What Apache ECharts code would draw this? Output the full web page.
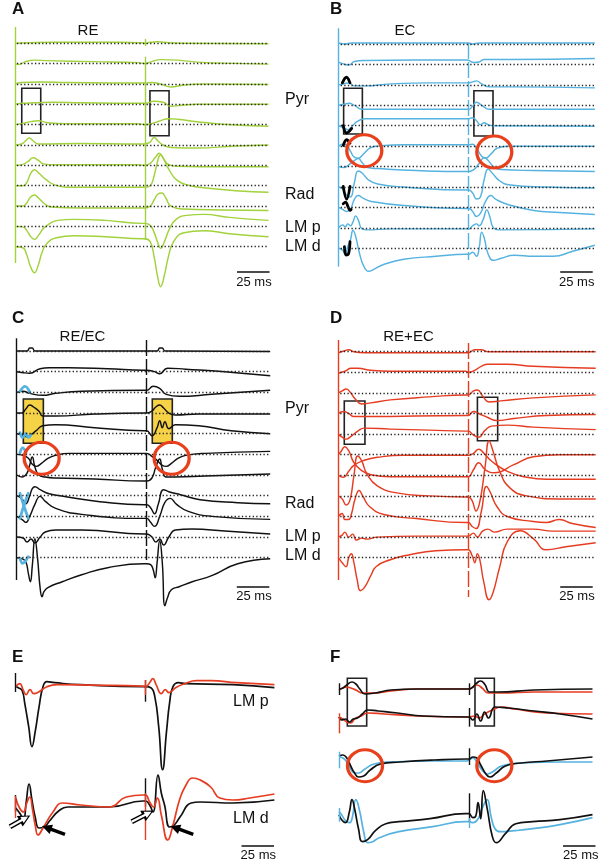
<!DOCTYPE html>
<html><head><meta charset="utf-8">
<script src="https://cdn.jsdelivr.net/npm/echarts@6/dist/echarts.min.js"></script>
<style>html,body{margin:0;padding:0;background:#fff}#c{width:600px;height:862px}</style>
</head><body><div id="c"></div>
<script>
// ===== DATA (time in ms after first stimulus, amplitude up = positive) =====
const traceA = [
 [[0,0],[10,0.5],[30,1],[80,1],[98,0.5],[100,0],[104,1],[110,1.5],[118,0.5],[130,0],[195,-0.5]],
 [[0,0],[3,-1],[8,2],[15,3.5],[25,3],[60,2],[95,1],[100,0],[105,2],[112,4],[125,3.5],[140,1.5],[160,0.5],[195,-0.5]],
 [[0,0],[5,1.5],[20,2],[40,1.5],[95,1],[100,1],[105,1.5],[112,0],[120,-3],[130,-1],[145,0],[195,-0.5]],
 [[0,0],[5,1],[15,1.5],[30,2],[50,1.5],[95,1],[100,1],[107,3],[114,2],[120,-2],[128,-1],[140,0],[195,0]],
 [[0,0],[5,1],[12,3],[18,4],[25,2],[40,1],[95,1],[100,0],[105,1],[112,4],[118,6],[125,5.5],[140,3],[160,0.5],[195,-1.5]],
 [[0,0],[5,1],[8,4],[11,7],[14,4],[18,1],[50,1.5],[95,1],[100,1],[104,3],[107,7.5],[110,4],[114,0],[120,-2.5],[140,-3],[170,-1],[195,0]],
 [[0,0],[6,1],[10,4],[14,7.5],[18,5],[22,1.5],[30,0.5],[95,0.5],[100,0],[104,2],[108,8],[111,12],[114,7],[118,1],[125,-1],[160,-1.5],[195,-1.5]],
 [[0,0],[6,0],[9,3],[12,12],[15,16],[18,13],[24,6],[30,1],[40,-1.5],[95,-1.5],[100,-1.5],[104,0],[107,10],[110,26],[112,31],[115,25],[118,17],[125,5],[135,0],[145,-2],[170,-5],[195,-6.5]],
 [[0,0],[6,0],[9,3],[12,9],[15,11],[18,8],[23,2],[28,-1],[50,-2],[95,-2],[100,-2],[104,0],[107,6],[110,12],[113,13],[116,8],[120,0],[130,-3],[160,-4],[195,-4.5]],
 [[0,0],[6,-0.5],[9,-4],[12,-10],[15,-13],[18,-9],[22,-2],[27,3],[33,6],[45,7],[70,6],[98,3],[100,3],[104,1],[107,-6],[110,-17],[112,-22],[115,-15],[119,-2],[124,7],[132,11],[145,12],[165,9],[195,6]],
 [[0,0],[6,-1],[9,-8],[12,-20],[15,-26],[18,-18],[21,-5],[25,4],[32,9],[45,11],[70,10],[98,8],[100,8],[104,5],[107,-10],[110,-32],[112,-40],[115,-28],[118,-10],[122,5],[130,14],[145,16],[165,13],[195,10]]
];
const traceB = [
 [[0,1],[5,0],[10,1],[98,1],[100,1],[103,0],[108,1],[197,1]],
 [[0,2],[5,0],[8,-0.5],[12,3],[20,4],[60,4.5],[98,4.5],[100,4],[104,2],[108,2.5],[112,5],[130,5],[197,6]],
 [[0,0],[4,1],[8,2],[12,-1],[20,-1],[40,1],[70,2],[98,2],[100,2],[103,3],[106,4],[110,1],[116,-2],[130,-2],[197,-3]],
 [[0,0],[4,1],[8,2],[12,0],[18,-4],[40,-4],[98,-4],[100,-4],[103,-1],[106,3],[110,0],[116,-4],[197,-4]],
 [[0,0],[4,-2],[7,-4],[10,-1],[14,4],[20,7],[60,7],[98,7],[100,7],[103,8],[106,5],[109,1],[112,3],[115,1],[120,0],[197,-0.5]],
 [[0,0],[3,2],[6,1],[9,-5],[12,-11],[15,-12],[19,-8],[24,-2],[30,0],[50,1.5],[98,1.5],[100,1.5],[103,2],[106,-2],[110,-10],[113,-12],[117,-8],[122,-2],[130,0],[197,0]],
 [[0,0],[4,-1],[8,2],[12,6],[15,8],[18,4],[22,-1],[30,-2],[60,-4],[98,-5],[100,-5],[104,-3],[108,3],[112,9],[115,6],[119,0],[125,-3],[150,-4],[197,-5]],
 [[0,0],[3,-2],[6,-8],[9,-10],[12,4],[15,16],[18,14],[23,7],[30,3],[50,0],[98,-3],[100,-3],[103,-6],[106,-12],[109,-10],[112,8],[115,18],[118,14],[124,6],[132,2],[160,0],[197,-1]],
 [[0,0],[3,-2],[6,-4],[9,-2],[12,8],[15,12],[19,9],[25,6],[50,2],[98,-1],[100,-1],[103,-4],[106,-9],[109,-6],[113,6],[117,12],[121,8],[130,3],[150,-3],[170,-5],[197,-7]],
 [[0,0],[3,3],[5,1],[7,4],[9,2],[11,6],[13,12],[15,8],[18,-1],[22,-2],[40,-1],[98,-1],[100,-1],[103,2],[106,4],[108,2],[111,8],[114,18],[116,12],[119,0],[123,-2],[197,-1]],
 [[0,0],[3,-2],[5,-6],[7,2],[9,8],[11,18],[13,12],[16,-5],[19,-17],[23,-23],[27,-21],[35,-16],[50,-11],[75,-8],[98,-6],[100,-6],[103,-4],[106,-8],[108,0],[110,16],[112,10],[115,-6],[119,-12],[125,-10],[135,-7],[150,-8],[165,-8],[180,-3],[197,3]]
];
const traceC = [
 [[0,0],[8,0],[10,3],[12,3],[14,0],[100,0],[108,0],[110,3],[112,3],[114,0],[195,-0.5]],
 [[0,0],[5,-1],[10,-1.5],[18,3],[25,4],[40,4],[70,3],[98,1.5],[100,1.5],[106,0],[110,-2],[116,3.5],[130,2.5],[160,0],[195,-4]],
 [[0,0],[5,1],[10,-1],[20,-3],[30,-1],[50,1],[98,2],[100,2],[105,6],[110,4],[115,-2],[125,-4],[150,-2],[195,2]],
 [[0,0],[4,0],[7,4],[10,8],[13,6],[17,2],[20,-3],[30,-3],[60,-1],[98,0],[100,0],[104,2],[107,6],[110,8],[113,5],[117,0],[122,-2],[140,-1],[195,-1]],
 [[0,0],[4,-1],[8,-3],[11,-1],[15,3],[20,8],[30,9],[60,6],[98,3],[100,3],[104,-2],[108,6],[110,13],[112,6],[114,12],[117,5],[122,9],[140,8],[165,3],[195,0]],
 [[0,0],[5,-1],[9,-4],[12,-10],[15,-12],[19,-9],[24,-4],[30,-1],[40,1],[98,1],[100,1],[104,-2],[108,-6],[112,-11],[115,-12],[119,-9],[124,-4],[130,-1],[145,1],[195,3]],
 [[0,0],[4,-2],[8,2],[10,10],[12,18],[14,8],[17,0],[22,-2],[30,-3],[60,-4],[98,-6],[100,-6],[104,-3],[107,8],[110,16],[112,6],[115,-2],[122,-2],[145,-1],[195,1]],
 [[0,0],[4,-3],[7,-8],[10,0],[12,7],[14,9],[18,6],[25,2],[38,-1],[64,-6],[98,-9],[100,-9],[103,-12],[106,-18],[109,-8],[113,6],[117,4],[126,1],[141,-4],[170,-7],[195,-8]],
 [[0,0],[4,-3],[7,-6],[10,0],[14,12],[18,20],[22,15],[30,8],[50,2],[98,-2],[100,-2],[103,-6],[106,-10],[110,0],[114,14],[118,18],[123,12],[132,5],[150,0],[195,-3]],
 [[0,0],[5,-1],[8,-5],[11,-2],[14,-6],[18,0],[22,5],[30,7],[50,7],[98,3],[100,3],[104,0],[107,-5],[110,-2],[113,-8],[117,0],[122,7],[135,8],[160,6],[195,3]],
 [[0,0],[4,-1],[7,-4],[9,-16],[10.5,-24],[12,-8],[14,19],[16,0],[18,-30],[19.5,-39],[21,-34],[24,-30],[35,-24],[50,-17],[70,-10],[98,-6],[100,-6],[103,-7],[105,-12],[106.5,-20],[108,-5],[110,17],[112,-5],[114,-48],[116,-40],[119,-32],[125,-29],[135,-24],[150,-18],[170,-6],[195,-1]]
];
const traceD = [
 [[0,-1],[5,1],[8,2],[12,0],[20,-1],[98,-1],[100,-1],[105,2],[110,2],[115,0],[198,0]],
 [[0,-1],[5,1],[10,4],[15,4],[25,2],[40,1],[98,1],[100,0],[105,2],[110,6],[115,8],[130,8],[150,6],[198,4]],
 [[0,0],[3,2],[6,4],[9,1],[13,-6],[18,-11],[25,-10],[40,-7],[70,-4],[98,-2],[100,-2],[104,2],[107,3],[111,-3],[116,-9],[125,-8],[150,-5],[198,-2]],
 [[0,0],[4,2],[8,0],[12,-3],[20,-3],[98,-2],[100,-2],[104,2],[108,0],[115,-4],[122,-7],[135,-5],[160,-2],[198,-1]],
 [[0,0],[3,-3],[6,-5],[10,-2],[15,3],[20,6],[40,5],[70,4],[98,3],[100,3],[104,-1],[108,-3],[113,4],[118,8],[130,9],[150,7],[198,4.5]],
 [[0,0],[2,3],[5,8],[8,4],[12,-8],[18,-16],[25,-20],[40,-22],[98,-22],[100,-22],[104,-15],[108,-8],[113,-15],[120,-18],[135,-10],[150,-2],[170,0],[198,0]],
 [[0,0],[4,-2],[8,4],[12,10],[20,15],[30,18],[50,20],[98,20],[100,20],[104,22],[108,26],[112,22],[118,14],[130,4],[145,-2],[160,-4],[198,-4]],
 [[0,0],[3,-3],[6,-9],[9,-4],[12,20],[15,40],[18,35],[22,22],[30,10],[45,3],[70,0],[98,-1],[100,-1],[103,-5],[106,-15],[109,-5],[113,30],[116,55],[119,45],[124,25],[132,8],[145,0],[170,-3],[198,-3]],
 [[0,0],[3,3],[5,-3],[8,-3],[10,2],[13,18],[16,26],[19,20],[24,10],[35,2],[60,-2],[98,-6],[100,-6],[103,-10],[106,-12],[110,5],[114,30],[117,24],[122,10],[130,0],[150,-5],[160,-6],[170,-3],[180,-7],[198,-11]],
 [[0,0],[3,2],[5,5],[8,0],[11,3],[14,-3],[18,-1],[22,-2],[30,0],[60,1],[98,1],[100,1],[104,4],[107,0],[111,6],[115,8],[120,5],[130,8],[150,8],[165,6],[198,6]],
 [[0,0],[3,-5],[6,-9],[8,0],[10,4],[12,-5],[14.5,-22],[17,-33],[20,-30],[25,-18],[29,-9],[40,-2],[55,3],[75,7],[98,8],[100,8],[103,2],[105,-5],[107,4],[109,-3],[112,-25],[116,-42],[119,-35],[124,-10],[130,16],[140,27],[150,19],[160,8],[175,11],[198,15]]
];
// E: LM p black, LM p red, LM d black, LM d red
const traceE = [
 [[0,0],[2,-1],[5,-4],[7,-17],[10,-40],[12.5,-60],[15,-45],[18,-20],[21,0],[24,5],[30,4],[50,2],[98,0],[100,0],[104,-1],[107,-10],[110,-40],[113,-83],[116,-45],[118.5,-15],[121,0],[125,4],[131,3],[167,2],[199,-1]],
 [[0,0],[3,3],[6,-4],[8,-8],[11,-3],[14,-7],[18,-5],[24,0],[32,2],[60,1.5],[98,0.5],[100,0],[103,4],[105.5,8],[108,2],[112,-7],[115,-3],[118,-6],[123,-1],[130,3],[139,6],[150,6],[170,4],[199,2]],
 [[0,-3],[3,-8],[6,-14],[8,2],[10.3,21],[12.5,5],[15,-12],[18,-23],[22,-22],[26,-16],[33,-6],[40,-2],[72,-2],[98,4],[100,4],[103,0],[105.6,-7],[109.5,30],[112,12],[114.5,0],[118.5,-22],[122,-20],[126.4,-12],[135,2],[142,3],[167,2],[199,5]],
 [[0,7],[3,-3],[6,-7],[8.5,2],[10.8,8],[13,-5],[15,-20],[17.2,-30],[21,-23],[28.7,-7],[36,2],[50,0],[72,-2],[85,8],[98,10],[100,10],[103,3],[106,-2],[109,7],[112,-10],[117,-35],[121,-20],[126,5],[131,20],[136,27],[142,25],[150,18],[157,7],[167,5],[180,7],[199,11]]
];
// F: pair1 red/black, pair2 red/black, pair3 blue/black, pair4 blue/black
const traceF = [
 [[0,-1],[3,1],[6,2],[9,1],[13,-1],[18,-4],[25,-4],[40,-2],[60,0],[98,0],[100,0],[103,2],[106,4],[110,1],[115,-4],[125,-4],[150,-3],[195,-3]],
 [[0,0],[3,1],[6,4],[10,7],[13,5],[16,0],[20,-5],[28,-4],[40,-1],[60,0],[98,0],[100,0],[103,2],[106,6],[109,8],[112,5],[116,-3],[122,-3],[150,-1],[195,0]],
 [[0,0],[3,-2],[6,-5],[9,-6],[12,-2],[17,1],[22,4],[35,3],[60,1],[98,0],[100,0],[104,1],[108,-1],[112,3],[118,7],[125,10],[135,8],[160,4],[195,3]],
 [[0,0],[2,-3],[5,-2],[8,-5],[11,-2],[14,-1],[18,3],[22,7],[30,6],[45,4],[65,1],[98,0],[100,0],[103,-3],[106,3],[109,-4],[112,5],[115,-1],[120,10],[130,9],[150,6],[170,3],[195,-2]],
 [[0,3],[3,2],[6,-2],[9,-9],[12,-13],[15,-13],[20,-9],[27,-4],[40,-2],[70,-1],[98,-1],[100,0],[103,2],[106,-2],[110,-10],[114,-14],[118,-12],[125,-6],[140,-3],[170,-2],[195,-2]],
 [[0,4],[3,5],[6,2],[9,-6],[12,-13],[15,-17],[19,-16],[24,-10],[32,-4],[47,-2],[73,0],[98,1],[100,1],[103,3],[106,2],[109,-5],[113,-14],[116,-17],[121,-13],[128,-6],[140,-3],[160,-1],[195,3]],
 [[0,5],[2,2],[5,-4],[8,-6],[10,-2],[13,17],[16,5],[19,-15],[22,-26],[26,-25],[31,-21],[46,-15],[72,-10],[97,-5],[100,-5],[103,-6],[107,-2],[110,8],[114,17],[117,0],[120,-12],[124,-15],[135,-14],[149,-12],[170,-8],[195,-1]],
 [[0,2],[2,-3],[5,-6],[8,5],[10,17],[12,8],[15,-12],[18,-25],[22,-23],[28,-14],[36,-7],[46,-5],[70,-2],[97,3],[100,3],[103,-1],[105,0],[107,14],[109,-2],[111,26],[114,8],[118,-20],[121,-26],[128,-17],[136,-7],[149,-5],[170,-3],[195,2]]
];
// hand-drawn stroke marks: [traceIndex, points(t, amp)]
const marksB = [
 [2,[[2.8,2],[6,7.6],[8.7,2]]],
 [4,[[3.5,0],[6.1,-7.3],[10,-2.7]]],
 [5,[[3.5,0.7],[6.1,6.4],[8.7,3]]],
 [7,[[3.5,0.6],[6.1,-12],[8.7,0.6]]],
 [8,[[3.5,3.7],[5.3,5.3],[7.3,0.3],[8.7,-3],[9.6,-2]]],
 [10,[[4.4,1.6],[5.6,-6.7],[7.4,-6],[8.7,6.6]]]
];
const marksC = [
 [2,[[2.5,1],[6.4,6],[10.2,0]]],
 [4,[[2.5,1],[4.6,-4],[7.2,0.3],[8.9,-4],[10.8,-1.7]]],
 [5,[[2.5,1.4],[4.6,6.4],[7.2,1.4]]],
 [7,[[2.5,2.4],[5.5,-10],[8.9,-22.6]]],
 [7,[[8.9,2.4],[5.5,-10],[2.5,-22.6]]],
 [10,[[2.5,-0.6],[4.6,-5.6],[6.4,-4],[8.9,1]]]
];
// stimulus artifacts [t, yTop, yBottom, colorKey, dashed]
const stimA = [[0,-7,-243,'g',0],[100,-36.7,-220,'g',0],[100,-19,-26,'g',0]];
const stimB = [[0,-8.3,-246.7,'b',0],[100,-23,-240,'b',1]];
const stimC = [[0,-13.3,-255,'k',0],[100,-15,-235,'k',1]];
const stimD = [[0,-15,-255,'r',0],[100,-18,-272,'r',1]];
const stimE = [[0,-13,-32,'k',0],[0,-135,-152,'k',0],[0,-136,-158,'r',0],[100,-20,-41.7,'k',0],[100,-20,-35,'r',0],[100,-118.3,-146.7,'k',0],[100,-133.3,-180,'r',0]];
const stimF = [[0,-23.3,-35,'k',0],[0,-53.3,-73.3,'r',0],[0,-91.7,-108.3,'b',0],[0,-148,-161.7,'b',0],[100,-23.3,-35,'k',0],[100,-48,-66.7,'k',0],[100,-88.3,-105,'k',0],[100,-133.3,-161.7,'k',0],[100,-158,-168,'b',0]];
// boxes [t1, y1, t2, y2]
const boxesA = [[5.2,-68.3,19.8,-113.3],[103.8,-70.7,118.5,-115.7]];
const boxesB = [[3.8,-68.3,18.2,-114],[104,-70.7,118.7,-116]];
const boxesC = [[5.1,-74,20.5,-118.3],[104.3,-74,119.7,-118.3]];
const boxesD = [[4.6,-76,20.5,-119.3],[107,-72.3,122.6,-115.7]];
const boxesF = [[6.4,-18.3,21.3,-66],[104.6,-18.3,119.5,-66]];
// circle highlights [t, y]
const circlesB = [[19.7,-130.7],[119.7,-132]];
const circlesC = [[19.2,-133.3],[119.2,-133.3]];
const circlesF = [[20,-105.7],[119.5,-105.7]];
// scale bars [t start, y] (25 ms long)
const SCALE_MS = 25;
const scaleBars = {A:[170.8,-252],B:[170.4,-251.7],C:[169.3,-261.7],D:[170.7,-261.7],E:[173.7,-185.7],F:[172.3,-185.7]};
// arrows in E [t1,y1,t2,y2]
const arrowsOpen = [[-4.4,-166.7,7.2,-158.3],[89.2,-161.7,102,-153.3]];
const arrowsFilled = [[37.9,-174.3,23.8,-167.7],[136.6,-174.3,122.5,-167.7]];

// ===== LAYOUT =====
const MSPX = 1.3;
const COL = {g:'#a2d23c', b:'#56b3e0', r:'#e63c22', k:'#111111'};
const layout = {
 A:{left:15, top:20, h:280, t:[0,196], base0:43.3, step:20.34, dotEnd:195, traces:traceA, cols:Array(11).fill('g'), stim:stimA, boxes:boxesA},
 B:{left:338.7, top:20, h:280, t:[0,198], base0:44, step:20.43, dotEnd:197, traces:traceB, cols:Array(11).fill('b'), stim:stimB, boxes:boxesB, circles:circlesB, marks:marksB, markCol:'#000'},
 C:{left:16.7, top:325, h:290, t:[0,196], base0:351, step:20.67, dotEnd:195, traces:traceC, cols:Array(11).fill('k'), stim:stimC, boxes:boxesC, yellow:true, circles:circlesC, marks:marksC, markCol:'#56b3e0'},
 D:{left:338.3, top:325, h:290, t:[0,198], base0:351.7, step:20.6, dotEnd:198, traces:traceD, cols:Array(11).fill('r'), stim:stimD, boxes:boxesD},
 E:{left:2.7, top:660, h:200, t:[-10,200], bases:[686.7,686.7,805,805], traces:traceE, cols:['k','r','k','r'], stim:stimE, lw:1.7},
 F:{left:339, top:660, h:200, t:[0,198], bases:[689,689,717,717,760,760,816.7,816.7], traces:traceF, cols:['r','k','r','k','b','k','b','k'], stim:stimF, boxes:boxesF, circles:circlesF, lw:1.7}
};
const keys = ['A','B','C','D','E','F'];
const grids=[], xAxes=[], yAxes=[], series=[];
keys.forEach((k,gi)=>{
 const L = layout[k];
 grids.push({left:L.left, top:L.top, width:(L.t[1]-L.t[0])*MSPX, height:L.h});
 xAxes.push({type:'value', gridIndex:gi, min:L.t[0], max:L.t[1], show:false});
 yAxes.push({type:'value', gridIndex:gi, min:-L.h, max:0, show:false});
 const baseVal = i => -(((L.bases ? L.bases[i] : L.base0 + i*L.step)) - L.top);
 const ml = L.stim.map(s=>{
   const ls = {color:COL[s[3]], width:1.4, type: s[4] ? [16,3] : 'solid'};
   return [{coord:[s[0],s[1]], lineStyle:ls},{coord:[s[0],s[2]], lineStyle:ls}];
 });
 const sb = scaleBars[k];
 const sbs = {color:'#111', width:1.6, type:'solid'};
 ml.push([{coord:[sb[0],sb[1]], lineStyle:sbs},{coord:[sb[0]+SCALE_MS,sb[1]], lineStyle:sbs}]);
 series.push({type:'line', xAxisIndex:gi, yAxisIndex:gi, data:[], z:1, silent:true, animation:false,
   markArea: L.boxes ? {silent:true, animation:false, itemStyle:{color: L.yellow ? '#f6d346' : 'rgba(0,0,0,0)', borderColor:'#222', borderWidth:1.6},
     data: L.boxes.map(b=>[{coord:[b[0],b[1]]},{coord:[b[2],b[3]]}])} : undefined,
   markLine:{silent:true, animation:false, symbol:['none','none'], label:{show:false}, data:ml}
 });
 L.traces.forEach((tr,i)=>{
   const b = baseVal(i);
   const s = {type:'line', xAxisIndex:gi, yAxisIndex:gi, data:tr.map(p=>[p[0], b+p[1]]),
     symbol:'none', showSymbol:false, smooth:0.5, silent:true, animation:false, z:2,
     lineStyle:{color:COL[L.cols[i]], width:L.lw||1.45, join:'round'}};
   if (L.dotEnd) s.markLine = {silent:true, animation:false, symbol:['none','none'], label:{show:false},
     lineStyle:{color:'#222', width:1.3, type:[1.3,2.3]}, data:[[{coord:[1.5,b]},{coord:[L.dotEnd,b]}]]};
   series.push(s);
 });
 (L.marks||[]).forEach(m=>{
   const b = baseVal(m[0]);
   series.push({type:'line', xAxisIndex:gi, yAxisIndex:gi, data:m[1].map(p=>[p[0], b+p[1]]), symbol:'none', smooth:0.4,
     silent:true, animation:false, z:4, lineStyle:{color:L.markCol, width:2.8, cap:'round', join:'round'}});
 });
 if (L.circles) series.push({type:'scatter', xAxisIndex:gi, yAxisIndex:gi, data:L.circles, symbol:'circle', symbolSize:[35,32],
   silent:true, animation:false, z:5, itemStyle:{color:'rgba(0,0,0,0)', borderColor:'#e8401c', borderWidth:3.2, opacity:1}});
 if (k==='E') {
   const mk = (arr, col, w, sz) => ({silent:true, animation:false, symbol:['none','triangle'], symbolSize:sz, label:{show:false},
     lineStyle:{color:col, width:w, type:'solid'}, itemStyle:{color:col}, data:arr.map(a=>[{coord:[a[0],a[1]]},{coord:[a[2],a[3]]}])});
   series.push({type:'line', xAxisIndex:gi, yAxisIndex:gi, data:[], z:6, silent:true, animation:false, clip:false, markLine:mk(arrowsFilled,'#000',3.5,[10,10])});
   series.push({type:'line', xAxisIndex:gi, yAxisIndex:gi, data:[], z:6, silent:true, animation:false, clip:false, markLine:mk(arrowsOpen,'#000',5,[12,12])});
   series.push({type:'line', xAxisIndex:gi, yAxisIndex:gi, data:[], z:7, silent:true, animation:false, clip:false, markLine:mk(arrowsOpen,'#fff',2.2,[7,7])});
 }
});

const FONT = '"Liberation Sans", Arial, Helvetica, sans-serif';
const texts = [
 ['A',12,9,'bold 17px','left'],['B',330,9,'bold 17px','left'],['C',12,318.5,'bold 17px','left'],
 ['D',330,318.5,'bold 17px','left'],['E',12,657.5,'bold 17px','left'],['F',330,657.5,'bold 17px','left'],
 ['RE',88,31,'15px','center'],['EC',405,31,'15px','center'],['RE/EC',82.5,337,'15px','center'],['RE+EC',408.5,337,'15px','center'],
 ['Pyr',285,100,'16px','left'],['Rad',285,195,'16px','left'],['LM p',285,227.5,'16px','left'],['LM d',285,246.5,'16px','left'],
 ['Pyr',285,408.5,'16px','left'],['Rad',285,503.5,'16px','left'],['LM p',285,537,'16px','left'],['LM d',285,555.5,'16px','left'],
 ['LM p',233,701.7,'16px','left'],['LM d',233,819,'16px','left'],
 ['25 ms',254,282,'13px','center'],['25 ms',576.7,282,'13px','center'],['25 ms',254,596.5,'13px','center'],
 ['25 ms',577,596.5,'13px','center'],['25 ms',258.3,855,'13px','center'],['25 ms',580.8,855,'13px','center']
];
const graphic = texts.map(t=>({type:'text', x:t[1], y:t[2], silent:true, z:10,
  style:{text:t[0], font:t[3]+' '+FONT, fill:'#111', textAlign:t[4], textVerticalAlign:'middle'}}));

const chart = echarts.init(document.getElementById('c'), null, {renderer:'canvas'});
chart.setOption({animation:false, backgroundColor:'#fff', grid:grids, xAxis:xAxes, yAxis:yAxes, series:series, graphic:graphic});
</script></body></html>
